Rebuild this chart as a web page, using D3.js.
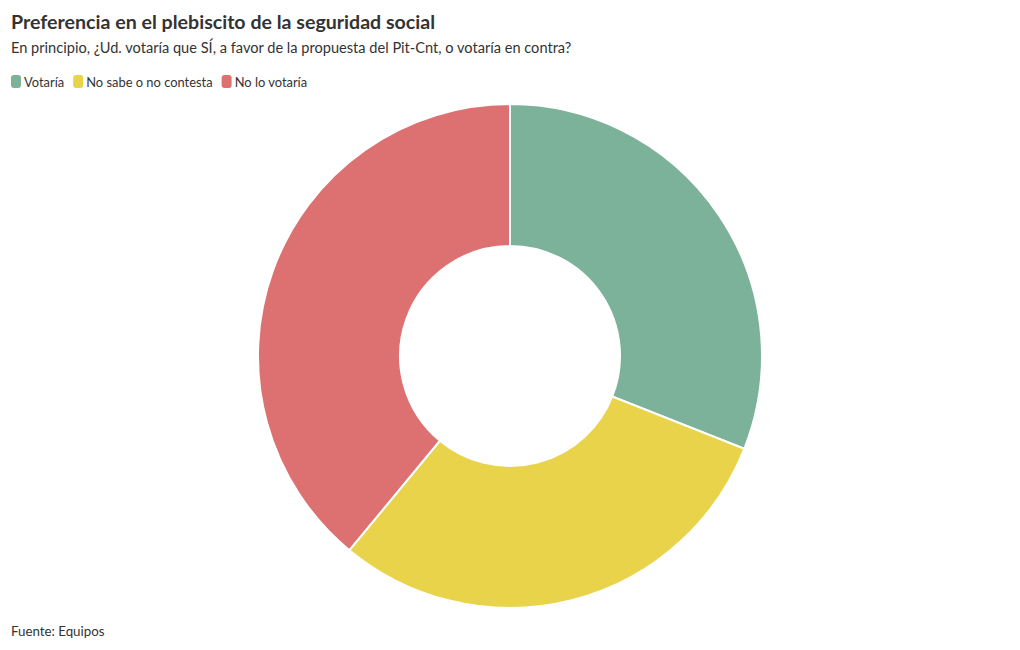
<!DOCTYPE html>
<html><head><meta charset="utf-8">
<script src="https://cdn.jsdelivr.net/npm/d3@7"></script>
<style>body{margin:0;background:#fff;font-family:Lato,"Source Sans Pro",sans-serif;}</style>
</head><body>
<svg id="c" width="1020" height="650"></svg>
<script>
const categories = ["Votaría", "No sabe o no contesta", "No lo votaría"];
const values = [31, 30, 39];
const colors = ["#7db29a", "#e8d34b", "#dd7070"];

const svg = d3.select("#c");
const textColor = "#333";

svg.append("text").attr("x", 11).attr("y", 29)
  .attr("font-size", 19.6).attr("font-weight", 700).attr("fill", textColor)
  .text("Preferencia en el plebiscito de la seguridad social");
svg.append("text").attr("x", 11).attr("y", 53)
  .attr("font-size", 14.6).attr("fill", textColor)
  .text("En principio, ¿Ud. votaría que SÍ, a favor de la propuesta del Pit-Cnt, o votaría en contra?");

// legend
let lx = 11;
const leg = svg.append("g");
categories.forEach((c, i) => {
  leg.append("rect").attr("x", lx).attr("y", 75).attr("width", 10).attr("height", 13)
    .attr("rx", 3).attr("fill", colors[i]);
  const t = leg.append("text").attr("x", lx + 13).attr("y", 87)
    .attr("font-size", 12.9).attr("fill", textColor).text(c);
  lx += 13 + t.node().getComputedTextLength() + 9;
});

const cx = 510, cy = 356, R = 252, r = 110;
const pie = d3.pie().sort(null).value(d => d)(values);
const arc = d3.arc().innerRadius(r).outerRadius(R);
svg.append("g").attr("transform", `translate(${cx},${cy})`)
  .selectAll("path").data(pie).join("path")
  .attr("d", arc).attr("fill", (d, i) => colors[i])
  .attr("stroke", "#fff").attr("stroke-width", 2);

svg.append("text").attr("x", 11).attr("y", 636)
  .attr("font-size", 13.3).attr("fill", textColor).text("Fuente: Equipos");
</script>
</body></html>
